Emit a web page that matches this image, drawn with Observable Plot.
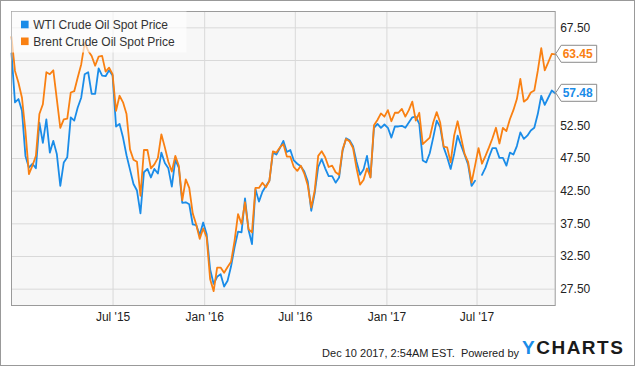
<!DOCTYPE html>
<html><head><meta charset="utf-8">
<script src="https://cdn.jsdelivr.net/npm/d3@7"></script>
<script src="https://cdn.jsdelivr.net/npm/@observablehq/plot@0.6"></script>
<style>
html,body{margin:0;padding:0;background:#fff;}
#wrap{position:relative;width:635px;height:366px;overflow:hidden;font-family:"Liberation Sans",Arial,sans-serif;}
#chart{position:absolute;left:0;top:0;}
#border{position:absolute;left:0;top:0;width:635px;height:366px;box-sizing:border-box;border:1px solid #999;pointer-events:none;}
#stamp{position:absolute;right:116px;top:347px;font-size:11px;color:#222;white-space:nowrap;line-height:13px;}
#logo{position:absolute;left:522px;top:337px;font-size:19px;font-weight:bold;letter-spacing:1.5px;line-height:22px;color:#1a1a1a;white-space:nowrap;}
#logo span{color:#1a8ce8;}
</style></head><body>
<div id="wrap"><div id="chart"></div><div id="stamp">Dec 10 2017, 2:54AM EST.&nbsp; Powered by</div><div id="logo"><span>Y</span>CHARTS</div><div id="border"></div></div>
<script>
const seriesNames = ["WTI Crude Oil Spot Price", "Brent Crude Oil Spot Price"];
const seriesColors = ["#1a8ce8", "#f98012"];

const dates = [
"2014-12-09","2014-12-16","2014-12-23","2014-12-30",
"2015-01-06","2015-01-13","2015-01-20","2015-01-27",
"2015-02-03","2015-02-10","2015-02-17","2015-02-24",
"2015-03-03","2015-03-10","2015-03-17","2015-03-24","2015-03-31",
"2015-04-07","2015-04-14","2015-04-21","2015-04-28",
"2015-05-05","2015-05-12","2015-05-19","2015-05-26",
"2015-06-02","2015-06-09","2015-06-16","2015-06-23","2015-06-30",
"2015-07-07","2015-07-14","2015-07-21","2015-07-28",
"2015-08-04","2015-08-11","2015-08-18","2015-08-25",
"2015-09-01","2015-09-08","2015-09-15","2015-09-22","2015-09-29",
"2015-10-06","2015-10-13","2015-10-20","2015-10-27",
"2015-11-03","2015-11-10","2015-11-17","2015-11-24",
"2015-12-01","2015-12-08","2015-12-15","2015-12-22","2015-12-29",
"2016-01-05","2016-01-12","2016-01-19","2016-01-26",
"2016-02-02","2016-02-09","2016-02-16","2016-02-23",
"2016-03-01","2016-03-08","2016-03-15","2016-03-22","2016-03-29",
"2016-04-05","2016-04-12","2016-04-19","2016-04-26",
"2016-05-03","2016-05-10","2016-05-17","2016-05-24","2016-05-31",
"2016-06-07","2016-06-14","2016-06-21","2016-06-28",
"2016-07-05","2016-07-12","2016-07-19","2016-07-26",
"2016-08-02","2016-08-09","2016-08-16","2016-08-23","2016-08-30",
"2016-09-06","2016-09-13","2016-09-20","2016-09-27",
"2016-10-04","2016-10-11","2016-10-18","2016-10-25",
"2016-11-01","2016-11-08","2016-11-15","2016-11-22","2016-11-29",
"2016-12-06","2016-12-13","2016-12-20","2016-12-27",
"2017-01-03","2017-01-10","2017-01-17","2017-01-24","2017-01-31",
"2017-02-07","2017-02-14","2017-02-21","2017-02-28",
"2017-03-07","2017-03-14","2017-03-21","2017-03-28",
"2017-04-04","2017-04-11","2017-04-18","2017-04-25",
"2017-05-02","2017-05-09","2017-05-16","2017-05-23","2017-05-30",
"2017-06-06","2017-06-13","2017-06-20","2017-06-27",
"2017-07-04","2017-07-11","2017-07-18","2017-07-25",
"2017-08-01","2017-08-08","2017-08-15","2017-08-22","2017-08-29",
"2017-09-05","2017-09-12","2017-09-19","2017-09-26",
"2017-10-03","2017-10-10","2017-10-17","2017-10-24","2017-10-31",
"2017-11-07","2017-11-14","2017-11-21","2017-11-28",
"2017-12-05"];

const wti = [
63.6,56.1,56.6,54.8,47.9,46.1,46.7,46.0,53.0,49.9,
53.5,48.4,50.2,48.2,43.3,46.9,47.7,53.8,53.3,55.3,
56.8,60.4,60.7,57.4,57.4,61.3,60.2,60.1,61.0,60.2,
52.4,52.8,50.7,48.0,45.8,43.6,42.6,39.1,45.4,45.9,
44.6,45.9,45.2,48.4,46.8,46.0,43.2,47.3,46.1,40.7,
40.8,40.5,37.4,37.3,35.8,37.7,35.9,30.5,28.3,29.4,
29.8,27.9,28.8,31.0,33.9,36.3,36.2,41.4,36.6,34.4,
42.8,40.9,42.4,43.3,44.1,48.4,48.1,49.1,50.2,48.5,
48.8,47.2,46.7,46.3,45.5,44.0,39.5,42.2,46.2,47.4,
46.0,44.8,44.8,43.8,44.6,48.7,50.6,50.3,49.4,47.0,
45.0,45.8,47.9,44.6,52.2,52.8,52.2,52.7,52.2,50.7,
52.4,52.4,52.5,52.2,53.0,53.8,53.9,52.8,47.2,46.9,
48.3,50.7,53.3,52.3,49.2,47.7,45.9,48.2,51.0,49.5,
48.1,46.6,43.3,44.1,null,45.0,46.1,47.7,49.1,49.1,
47.6,47.6,46.4,48.4,48.1,49.4,51.5,50.5,51.0,51.8,
52.2,54.3,57.1,55.7,56.8,57.9,57.48];

const brent = [
66.1,60.9,59.1,56.8,51.7,45.1,46.4,47.9,54.3,55.8,
60.7,60.4,61.0,56.6,52.2,53.5,53.6,57.6,57.8,59.9,
61.9,65.2,64.0,63.2,61.7,63.1,63.2,60.8,61.4,60.4,
54.8,57.1,56.1,54.3,48.9,47.3,47.0,41.8,48.8,48.8,
46.0,46.6,47.6,51.2,49.2,47.0,45.5,47.9,46.4,41.1,
44.3,43.0,39.1,37.4,35.2,36.8,35.4,29.0,27.2,30.8,
30.8,30.0,30.9,31.7,34.9,39.0,37.5,40.8,36.7,36.2,
43.0,43.0,43.8,43.1,44.1,48.6,48.4,49.2,49.7,47.8,
47.8,46.2,45.6,46.4,45.2,43.4,40.0,42.6,47.9,48.6,
47.7,46.2,46.4,45.4,45.0,48.9,50.5,50.1,49.1,46.0,
43.5,44.2,46.0,44.6,52.6,53.4,54.4,53.9,54.9,53.2,
54.5,54.5,55.1,53.9,54.9,56.2,53.3,54.5,49.7,50.2,
50.7,53.0,54.6,53.0,49.3,49.2,46.9,51.0,53.2,50.7,
48.2,47.0,43.8,46.4,49.1,46.7,47.9,49.2,50.6,52.2,
49.8,52.2,51.7,53.5,54.9,56.6,59.7,56.2,56.6,57.6,
57.9,60.9,64.4,61.0,62.2,63.5,63.45];

const xTickDates = ["2015-07-01","2016-01-01","2016-07-01","2017-01-01","2017-07-01"];
const yTicks = [27.5,32.5,37.5,42.5,47.5,52.5,57.5,62.5,67.5];
const xDomain = ["2014-12-09","2017-12-05"];
const yDomain = [25,70];

const utc = s => new Date(s + "T00:00:00Z");
const rows = dates.map((d,i)=>({date: utc(d), wti: wti[i], brent: brent[i]}));
const xTicks = xTickDates.map(utc);
const lastValues = [wti[wti.length-1], brent[brent.length-1]];
const yLabelTicks = yTicks.filter(t => lastValues.every(v => Math.abs(v - t) > 1.5));

function flagMark(index, scales, values, dims){
  const g = d3.create("svg:g").attr("text-anchor", "start");
  const x0 = dims.width - dims.marginRight;
  lastValues.forEach((v, k) => {
    const yv = scales.y(v);
    g.append("path")
      .attr("d", `M${x0+1},${yv} L${x0+6.5},${yv-8.5} H${x0+42} V${yv+8.5} H${x0+6.5} Z`)
      .attr("fill", "#fff").attr("stroke", "#8a8a8a");
    g.append("text").attr("x", x0+8).attr("y", yv).attr("dy", "0.36em")
      .attr("text-anchor", "start")
      .attr("fill", seriesColors[k]).attr("font-weight", "bold").attr("font-size", 12)
      .text(v.toFixed(2));
  });
  return g.node();
}

function legendMark(index, scales, values, dims){
  const g = d3.create("svg:g").attr("text-anchor", "start");
  const x0 = dims.marginLeft, y0 = dims.marginTop;
  g.append("rect").attr("x", x0+0.5).attr("y", y0+0.5).attr("width", 175).attr("height", 41)
    .attr("fill", "#fff").attr("fill-opacity", 0.65);
  seriesNames.forEach((name, k) => {
    const cy = y0 + 13.5 + k*16.8;
    g.append("rect").attr("x", x0+10).attr("y", cy-3.8).attr("width", 7.6).attr("height", 7.6).attr("fill", seriesColors[k]);
    g.append("text").attr("x", x0+22.3).attr("y", cy).attr("dy", "0.35em")
      .attr("text-anchor", "start")
      .attr("fill", "#333").attr("font-size", 12).text(name);
  });
  return g.node();
}

const plot = Plot.plot({
  width: 635, height: 330,
  marginTop: 11, marginRight: 80.3, marginBottom: 25, marginLeft: 11,
  style: {fontFamily: '"Liberation Sans", Arial, sans-serif', fontSize: "12px", color: "#222", background: "transparent", overflow: "visible"},
  x: {type: "utc", domain: xDomain.map(utc), ticks: xTicks, tickFormat: d3.utcFormat("%b '%y"), tickSize: 0, tickPadding: 7, label: null},
  y: {domain: yDomain, axis: "right", ticks: yLabelTicks, tickFormat: d => d.toFixed(2), tickSize: 0, tickPadding: 5, label: null},
  marks: [
    Plot.frame({fill: "#f7f7f7", stroke: "none"}),
    Plot.ruleX(xTicks, {stroke: "#d9d9d9", strokeWidth: 1}),
    Plot.ruleY(yTicks, {stroke: "#d9d9d9", strokeWidth: 1}),
    Plot.line(rows, {x: "date", y: "wti", stroke: seriesColors[0], strokeWidth: 1.8}),
    Plot.line(rows, {x: "date", y: "brent", stroke: seriesColors[1], strokeWidth: 1.8}),
    Plot.frame({stroke: "#9a9a9a"}),
    legendMark,
    flagMark
  ]
});
document.getElementById("chart").appendChild(plot);
</script></body></html>
